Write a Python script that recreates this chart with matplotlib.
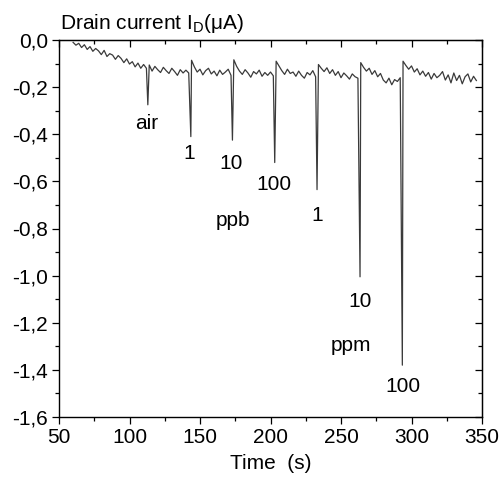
import numpy as np
import matplotlib
matplotlib.use("Agg")
import matplotlib.pyplot as plt
from matplotlib.ticker import MultipleLocator, FuncFormatter

plt.rcParams['font.family'] = ['Liberation Sans', 'DejaVu Sans']
plt.rcParams['mathtext.fontset'] = 'custom'
plt.rcParams['mathtext.rm'] = 'Liberation Sans'

# baseline drain current (uA), sampled every 2 s from t = 60 s
t_start = 60
t_step = 2
baseline = [
    -0.010, -0.022, -0.014, -0.032, -0.020, -0.040, -0.028, -0.048, -0.036, -0.046,
    -0.062, -0.044, -0.070, -0.058, -0.064, -0.082, -0.066, -0.078, -0.096, -0.080,
    -0.102, -0.092, -0.114, -0.098, -0.120, -0.104, -0.120, -0.106, -0.132, -0.112,
    -0.126, -0.138, -0.116, -0.130, -0.142, -0.120, -0.134, -0.150, -0.126, -0.140,
    -0.128, -0.140, -0.086, -0.114, -0.136, -0.124, -0.148, -0.130, -0.120, -0.144,
    -0.132, -0.152, -0.128, -0.146, -0.136, -0.124, -0.150, -0.084, -0.112, -0.132,
    -0.146, -0.126, -0.140, -0.158, -0.134, -0.144, -0.128, -0.154, -0.138, -0.150,
    -0.136, -0.152, -0.090, -0.110, -0.130, -0.146, -0.124, -0.142, -0.136, -0.154,
    -0.132, -0.150, -0.162, -0.138, -0.148, -0.130, -0.156, -0.104, -0.120, -0.134,
    -0.118, -0.142, -0.126, -0.150, -0.134, -0.160, -0.140, -0.152, -0.166, -0.144,
    -0.156, -0.162, -0.096, -0.116, -0.132, -0.120, -0.146, -0.130, -0.156, -0.142,
    -0.170, -0.182, -0.162, -0.190, -0.168, -0.176, -0.160, -0.090, -0.108, -0.124,
    -0.110, -0.136, -0.122, -0.148, -0.132, -0.154, -0.138, -0.166, -0.142, -0.160,
    -0.150, -0.134, -0.170, -0.148, -0.182, -0.140, -0.172, -0.150, -0.186, -0.156,
    -0.144, -0.178, -0.154, -0.172,
]

# gas pulses: time of the dip and its minimum
spike_time = [113, 143.5, 173, 203, 233, 263.5, 293.5]
spike_min = [-0.275, -0.41, -0.425, -0.52, -0.635, -1.005, -1.38]

# annotations: text, time, current
label_text = ['air', '1', '10', '100', 'ppb', '1', '10', 'ppm', '100']
label_t = [112.2, 142.4, 171.8, 202.5, 173.2, 233.2, 263.5, 256.9, 294.2]
label_v = [-0.354, -0.481, -0.523, -0.615, -0.767, -0.743, -1.111, -1.295, -1.471]

base_t = t_start + t_step * np.arange(len(baseline))
t = np.concatenate([base_t, spike_time])
v = np.concatenate([baseline, spike_min])
order = np.argsort(t, kind='stable')
t, v = t[order], v[order]

fig = plt.figure(figsize=(5.02, 4.79), dpi=100)
ax = fig.add_axes([59 / 502, 1 - 417 / 479, 423 / 502, 377 / 479])

ax.plot(t, v, color='#3a3a3a', lw=0.9)

for s, x, y in zip(label_text, label_t, label_v):
    ax.text(x, y, s, fontsize=15, ha='center', va='center')

ax.set_xlim(50, 350)
ax.set_ylim(-1.6, 0.0)
ax.xaxis.set_major_locator(MultipleLocator(50))
ax.xaxis.set_minor_locator(MultipleLocator(25))
ax.yaxis.set_major_locator(MultipleLocator(0.2))
ax.yaxis.set_minor_locator(MultipleLocator(0.1))
ax.yaxis.set_major_formatter(FuncFormatter(lambda y, p: f"{y:.1f}".replace('.', ',').replace('-0,0', '0,0')))

ax.tick_params(which='both', direction='out', top=False, right=False, labelsize=15, width=0.9, pad=3)
ax.tick_params(which='major', length=5)
ax.tick_params(which='minor', length=3)
for sp in ax.spines.values():
    sp.set_linewidth(1.0)

top = ax.secondary_xaxis('top')
top.xaxis.set_major_locator(MultipleLocator(50))
top.xaxis.set_minor_locator(MultipleLocator(25))
top.tick_params(which='both', direction='in', labeltop=False, width=0.9)
top.tick_params(which='major', length=5)
top.tick_params(which='minor', length=3)

right = ax.secondary_yaxis('right')
right.yaxis.set_major_locator(MultipleLocator(0.2))
right.yaxis.set_minor_locator(MultipleLocator(0.1))
right.tick_params(which='both', direction='in', labelright=False, width=0.9)
right.tick_params(which='major', length=5)
right.tick_params(which='minor', length=3)

ax.set_xlabel('Time  (s)', fontsize=15, labelpad=5)
fig.text(60 / 502, 1 - 29 / 479, r'Drain current I$_{\mathrm{D}}$(μA)', fontsize=15, va='baseline', ha='left')

fig.savefig('out.png', dpi=100)
